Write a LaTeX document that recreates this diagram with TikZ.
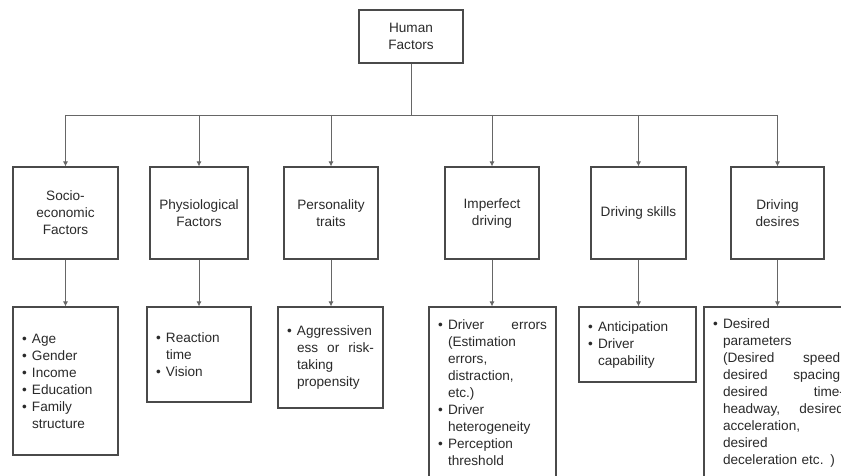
\documentclass[tikz,border=0pt]{standalone}
\usepackage{fontspec}
\setmainfont{Liberation Sans}
\usetikzlibrary{arrows.meta}
\definecolor{boxline}{HTML}{4A4A4A}
\definecolor{conline}{HTML}{666666}
\definecolor{txt}{HTML}{2A2A2A}
\newcommand{\itm}[1]{\makebox[10pt][l]{\textbullet}#1}
\newcommand{\cnt}[1]{\hspace*{10pt}#1}
\newcommand{\jst}[2]{\hspace*{10pt}\makebox[#1][s]{#2}}
\tikzset{
  box/.style={draw=boxline, line width=1.1pt, rectangle, inner sep=0pt,
    text=txt, font=\fontsize{13.6}{17}\selectfont},
  cat/.style={box, align=center, minimum height=92pt},
  lst/.style={box, align=left, inner xsep=9pt},
}

\begin{document}
\begin{tikzpicture}[x=1pt,y=-1pt,>={Latex[length=5pt,width=5pt]}]
\path[use as bounding box, clip] (0,0) rectangle (841,476);
\fill[white] (0,0) rectangle (841,476);

\node[box, align=center, minimum width=104pt, minimum height=53pt] (hf) at (411,36.5) {Human\\Factors};
\coordinate (bar) at (411,115);

\node[cat, minimum width=105pt] (soc) at (65.5,213) {Socio-\\economic\\Factors};
\node[cat, minimum width=98pt] (phys) at (199,213) {Physiological\\Factors};
\node[cat, minimum width=94pt] (pers) at (331,213) {Personality\\traits};
\node[cat, minimum width=94pt] (imp) at (492,213) {Imperfect\\driving};
\node[cat, minimum width=95pt] (skill) at (638.5,213) {Driving skills};
\node[cat, minimum width=93pt] (des) at (777.5,213) {Driving\\desires};

\node[lst, text width=87pt, minimum height=148pt] (socl) at (65.5,381)
  {\itm{Age}\\\itm{Gender}\\\itm{Income}\\\itm{Education}\\\itm{Family}\\\cnt{structure}};
\node[lst, text width=86pt, minimum height=95pt] (physl) at (199,354.5)
  {\itm{Reaction}\\\cnt{time}\\\itm{Vision}};
\node[lst, text width=87pt, minimum height=101pt] (persl) at (330.5,357.5)
  {\itm{Aggressiven}\\\jst{77pt}{ess\hfill or\hfill risk-}\\\cnt{taking}\\\cnt{propensity}};
\node[lst, text width=109pt, minimum height=172pt] (impl) at (492.5,393)
  {\makebox[10pt][l]{\textbullet}\makebox[99pt][s]{Driver\hfill errors}\\\cnt{(Estimation}\\\cnt{errors,}\\\cnt{distraction,}\\\cnt{etc.)}\\
   \itm{Driver}\\\cnt{heterogeneity}\\\itm{Perception}\\\cnt{threshold}};
\node[lst, text width=99pt, minimum height=75pt] (skilll) at (637.5,344.5)
  {\itm{Anticipation}\\\itm{Driver}\\\cnt{capability}};
\node[lst, text width=134pt, minimum height=172pt] (desl) at (780,393)
  {\itm{Desired}\\\cnt{parameters}\\\jst{121pt}{(Desired\hfill speed,}\\\jst{121pt}{desired\hfill spacing,}\\
   \jst{121pt}{desired\hfill time-}\\\jst{121pt}{headway,\hfill desired}\\\cnt{acceleration,}\\\cnt{desired}\\\cnt{deceleration etc. )}};

% tree lines
\path[draw,conline,line width=0.9pt] (hf.south) -- (bar);
\path[draw,conline,line width=0.9pt] (soc |- bar) -- (des |- bar);
\foreach \c in {soc,phys,pers,imp,skill,des}
  \path[draw,conline,line width=0.9pt,->] (\c |- bar) -- (\c.north);
\path[draw,conline,line width=0.9pt,->] (soc.south) -- (soc.south |- socl.north);
\path[draw,conline,line width=0.9pt,->] (phys.south) -- (phys.south |- physl.north);
\path[draw,conline,line width=0.9pt,->] (pers.south) -- (pers.south |- persl.north);
\path[draw,conline,line width=0.9pt,->] (imp.south) -- (imp.south |- impl.north);
\path[draw,conline,line width=0.9pt,->] (skill.south) -- (skill.south |- skilll.north);
\path[draw,conline,line width=0.9pt,->] (des.south) -- (des.south |- desl.north);
\end{tikzpicture}
\end{document}
